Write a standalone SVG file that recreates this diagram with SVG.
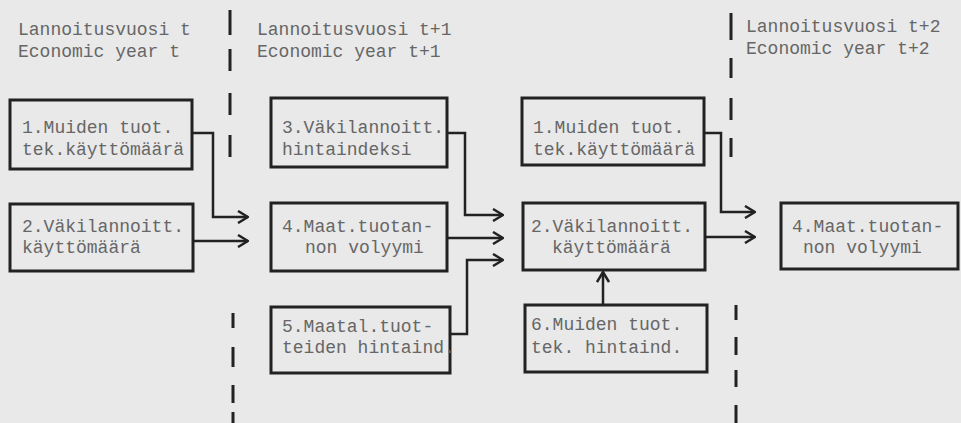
<svg xmlns="http://www.w3.org/2000/svg" width="961" height="423" viewBox="0 0 961 423">
<defs>
<marker id="arr" viewBox="0 0 12 14" refX="11" refY="7" markerWidth="12" markerHeight="14" markerUnits="userSpaceOnUse" orient="auto">
<path d="M1,1 L11,7 L1,13" fill="none" stroke="#222" stroke-width="2.5"/>
</marker>
<style>
.bg{fill:#e9e9e9}
.box{fill:none;stroke:#222;stroke-width:3}
.t{font-family:"Liberation Mono","DejaVu Sans Mono",monospace;font-size:18px;fill:#666}
.c{fill:none;stroke:#222;stroke-width:2.5;marker-end:url(#arr)}
.d{fill:none;stroke:#222;stroke-width:3}
</style>
</defs>
<rect class="bg" x="0" y="0" width="961" height="423"/>
<g id="dividers">
<path class="d" d="M230,10 V35 M230,49 V71 M230,93 V115 M230,135 V157"/>
<path class="d" d="M233,313 V328 M233,347 V367 M233,385 V403 M233,412 V423"/>
<path class="d" d="M731,13 V40 M731,58 V78 M731,98 V120 M731,138 V157"/>
<path class="d" d="M736,305 V320 M736,337 V355 M736,370 V387 M736,405 V423"/>
</g>
<g id="headers">
<text class="t" x="18" y="35">Lannoitusvuosi t</text>
<text class="t" x="18" y="57">Economic year t</text>
<text class="t" x="257" y="35">Lannoitusvuosi t+1</text>
<text class="t" x="257" y="57">Economic year t+1</text>
<text class="t" x="746" y="32">Lannoitusvuosi t+2</text>
<text class="t" x="746" y="54">Economic year t+2</text>
</g>
<g id="n1a">
<rect class="box" x="10" y="100" width="182" height="69"/>
<text class="t" x="22" y="133">1.Muiden tuot.</text>
<text class="t" x="22" y="155">tek.käyttömäärä</text>
</g>
<g id="n2a">
<rect class="box" x="10" y="204" width="183" height="67"/>
<text class="t" x="22" y="232">2.Väkilannoitt.</text>
<text class="t" x="22" y="253">käyttömäärä</text>
</g>
<g id="n3">
<rect class="box" x="271" y="98" width="176" height="69"/>
<text class="t" x="282" y="133">3.Väkilannoitt.</text>
<text class="t" x="282" y="155">hintaindeksi</text>
</g>
<g id="n4a">
<rect class="box" x="271" y="203" width="176" height="68"/>
<text class="t" x="282" y="232">4.Maat.tuotan-</text>
<text class="t" x="305" y="253">non volyymi</text>
</g>
<g id="n5">
<rect class="box" x="271" y="307" width="179" height="66"/>
<text class="t" x="282" y="332">5.Maatal.tuot-</text>
<text class="t" x="282" y="353">teiden hintaind.</text>
</g>
<g id="n1b">
<rect class="box" x="522" y="98" width="182" height="67"/>
<text class="t" x="533" y="133">1.Muiden tuot.</text>
<text class="t" x="533" y="155">tek.käyttömäärä</text>
</g>
<g id="n2b">
<rect class="box" x="523" y="203" width="182" height="67"/>
<text class="t" x="531" y="232">2.Väkilannoitt.</text>
<text class="t" x="552" y="253">käyttömäärä</text>
</g>
<g id="n6">
<rect class="box" x="525" y="305" width="182" height="67"/>
<text class="t" x="531" y="330">6.Muiden tuot.</text>
<text class="t" x="531" y="353">tek. hintaind.</text>
</g>
<g id="n4b">
<rect class="box" x="781" y="203" width="177" height="66"/>
<text class="t" x="792" y="232">4.Maat.tuotan-</text>
<text class="t" x="803" y="253">non volyymi</text>
</g>
<g id="connectors">
<path class="c" d="M192,133 H213 V217 H248"/>
<path class="c" d="M193,241 H248"/>
<path class="c" d="M447,133 H465 V215 H503"/>
<path class="c" d="M447,238 H503"/>
<path class="c" d="M450,334 H467 V260 H503"/>
<path class="c" d="M704,133 H721 V212 H755"/>
<path class="c" d="M705,237 H755"/>
<path class="c" d="M603,305 V272"/>
</g>
</svg>
